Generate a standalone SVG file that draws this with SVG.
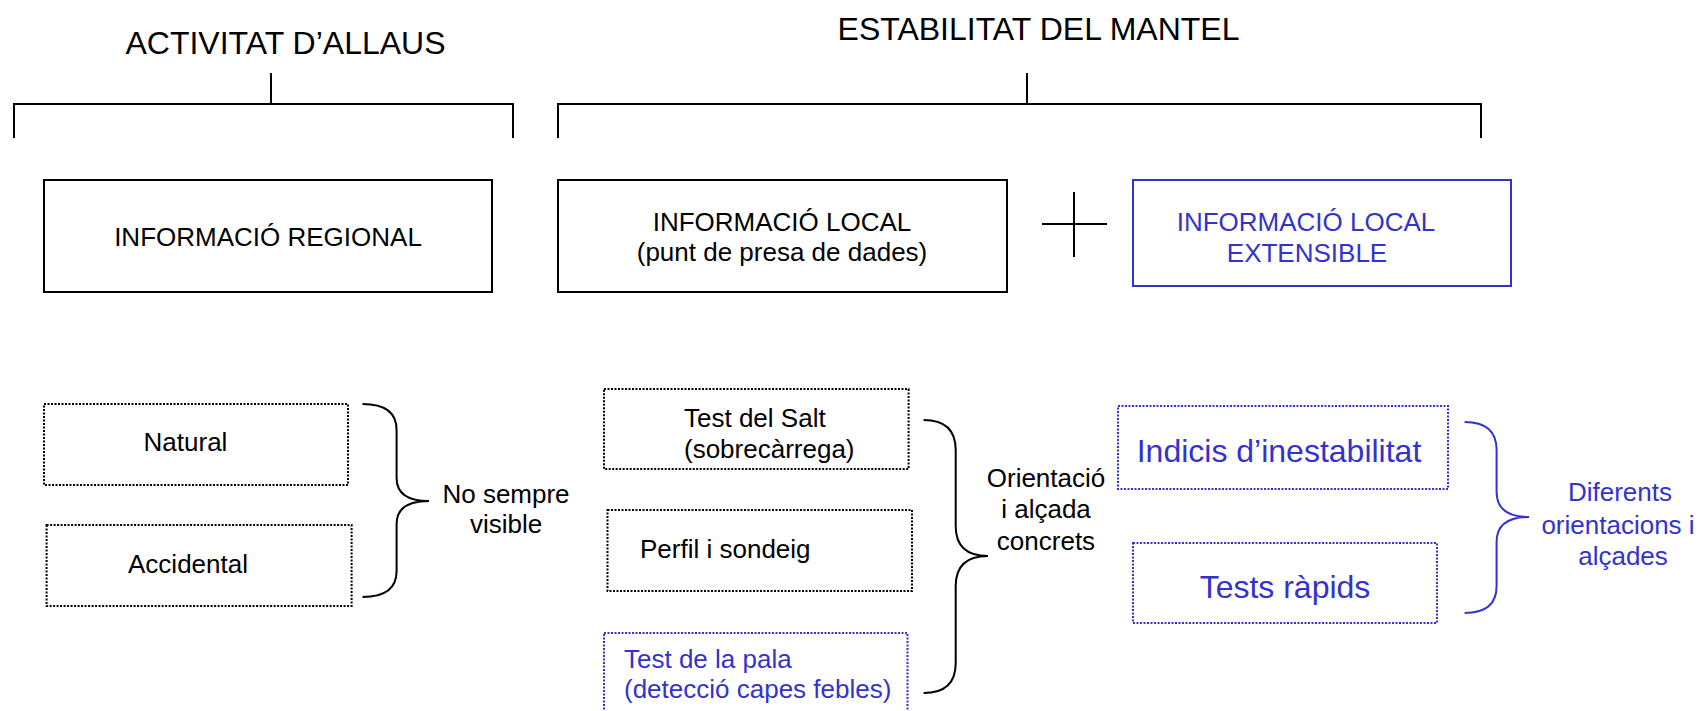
<svg xmlns="http://www.w3.org/2000/svg" width="1705" height="711" viewBox="0 0 1705 711">
<style>
text{font-family:"Liberation Sans",Arial,sans-serif;font-size:26px;fill:#000}
.blue{fill:#3333cc}
.big{font-size:32px}
.solid{fill:none;stroke:#000;stroke-width:2}
.solidb{fill:none;stroke:#3333cc;stroke-width:2}
.dot{fill:none;stroke:#000;stroke-width:2;stroke-dasharray:2 1.5}
.dotb{fill:none;stroke:#3333cc;stroke-width:2;stroke-dasharray:2 1.5}
.line{fill:none;stroke:#000;stroke-width:2}
.lineb{fill:none;stroke:#3333cc;stroke-width:2}
</style>
<rect width="1705" height="711" fill="#fff"/>
<g id="title-activitat">
<text class="big" x="285.5" y="54" text-anchor="middle">ACTIVITAT D’ALLAUS</text>
</g>
<g id="title-estabilitat">
<text class="big" x="1038.5" y="40" text-anchor="middle">ESTABILITAT DEL MANTEL</text>
</g>
<g id="connectors">
<path class="line" d="M271 73V104M14 138V104H513V138"/>
<path class="line" d="M1027 73V104M558 138V104H1481V138"/>
<path class="line" d="M1042 224H1107M1074 192V257"/>
<path class="line" d="M362.5 404Q396.6 404 396.6 430V478Q396.6 501 429 501Q396.6 501 396.6 524V571Q396.6 597 362.5 597"/>
<path class="line" d="M923.6 420Q955.7 420 955.7 450V526Q955.7 556 988 556Q955.7 556 955.7 586V663Q955.7 693 923.6 693"/>
<path class="lineb" d="M1464.6 422Q1496.6 422 1496.6 450V492Q1496.6 517 1529 517Q1496.6 517 1496.6 542V586Q1496.6 613 1464.6 613"/>
</g>
<g id="regional">
<rect class="solid" x="44" y="180" width="448" height="112"/>
<text x="268" y="246" text-anchor="middle">INFORMACIÓ REGIONAL</text>
</g>
<g id="local">
<rect class="solid" x="558" y="180" width="449" height="112"/>
<text x="782" y="231" text-anchor="middle">INFORMACIÓ LOCAL</text>
<text x="782" y="261" text-anchor="middle">(punt de presa de dades)</text>
</g>
<g id="local-extensible">
<rect class="solidb" x="1133" y="180" width="378" height="106"/>
<text class="blue" x="1306" y="231" text-anchor="middle">INFORMACIÓ LOCAL</text>
<text class="blue" x="1307" y="262" text-anchor="middle">EXTENSIBLE</text>
</g>
<g id="natural">
<rect class="dot" x="44" y="404" width="304" height="81"/>
<text x="185.5" y="451" text-anchor="middle">Natural</text>
</g>
<g id="accidental">
<rect class="dot" x="46.6" y="525" width="305" height="81"/>
<text x="188" y="573" text-anchor="middle">Accidental</text>
</g>
<g id="no-sempre">
<text x="506" y="503" text-anchor="middle">No sempre</text>
<text x="506" y="533" text-anchor="middle">visible</text>
</g>
<g id="test-salt">
<rect class="dot" x="604" y="389" width="304.6" height="80"/>
<text x="684" y="427">Test del Salt</text>
<text x="684" y="458">(sobrecàrrega)</text>
</g>
<g id="perfil">
<rect class="dot" x="607.5" y="510" width="304.5" height="81"/>
<text x="640" y="558">Perfil i sondeig</text>
</g>
<g id="test-pala">
<rect class="dotb" x="604" y="633" width="303.5" height="90"/>
<text class="blue" x="624" y="668">Test de la pala</text>
<text class="blue" x="624" y="698">(detecció capes febles)</text>
</g>
<g id="orientacio">
<text x="1046" y="487" text-anchor="middle">Orientació</text>
<text x="1046" y="518" text-anchor="middle">i alçada</text>
<text x="1046" y="550" text-anchor="middle">concrets</text>
</g>
<g id="indicis">
<rect class="dotb" x="1118" y="406" width="330" height="83"/>
<text class="blue big" x="1279" y="462" text-anchor="middle">Indicis d’inestabilitat</text>
</g>
<g id="tests-rapids">
<rect class="dotb" x="1133" y="543" width="304" height="80"/>
<text class="blue big" x="1285" y="598" text-anchor="middle">Tests ràpids</text>
</g>
<g id="diferents">
<text class="blue" x="1620" y="501" text-anchor="middle">Diferents</text>
<text class="blue" x="1618" y="534" text-anchor="middle">orientacions i</text>
<text class="blue" x="1623" y="565" text-anchor="middle">alçades</text>
</g>
</svg>
